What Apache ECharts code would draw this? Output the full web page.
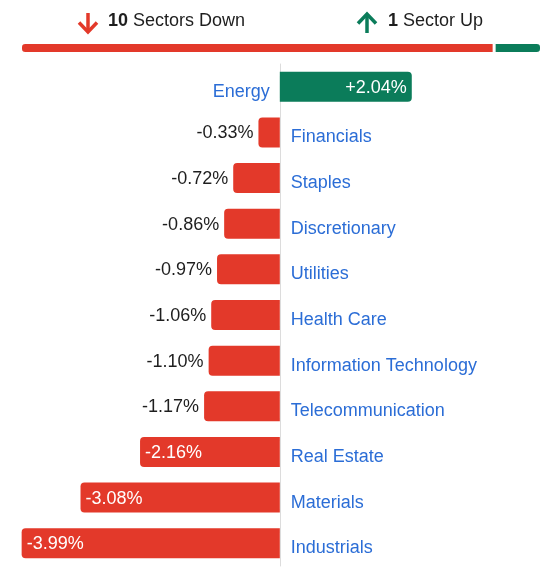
<!DOCTYPE html>
<html><head><meta charset="utf-8">
<script src="https://cdn.jsdelivr.net/npm/echarts@6/dist/echarts.min.js"></script>
<style>html,body{margin:0;padding:0;background:#fff}#c{width:560px;height:577px}</style>
</head><body><div id="c"></div>
<script>
var categories = ['Energy','Financials','Staples','Discretionary','Utilities','Health Care','Information Technology','Telecommunication','Real Estate','Materials','Industrials'];
var values = [2.04,-0.33,-0.72,-0.86,-0.97,-1.06,-1.10,-1.17,-2.16,-3.08,-3.99];
var downCount = values.filter(function(v){return v<0;}).length;
var upCount = values.filter(function(v){return v>0;}).length;

var RED = '#E3392A', GREEN = '#0B7C5A', BLUE = '#2B6DD6', DARK = '#1e1e1e';
var FONT = '"Liberation Sans", Arial, sans-serif';

var valueData = values.map(function(v){
  var pos = v >= 0, big = Math.abs(v) >= 2;
  return {
    value: v,
    itemStyle: {color: pos ? GREEN : RED, borderRadius: pos ? [0,4,4,0] : [4,0,0,4]},
    label: {
      show: true,
      position: pos ? 'insideRight' : (big ? 'insideLeft' : 'left'),
      distance: 5,
      offset: [0, 1],
      color: (pos || big) ? '#fff' : DARK,
      formatter: (pos ? '+' : '') + v.toFixed(2) + '%'
    }
  };
});
var nameData = values.map(function(v, i){
  var pos = v >= 0;
  return {
    value: v,
    label: {
      show: true,
      position: pos ? 'left' : 'right',
      distance: pos ? 10 : 11,
      color: BLUE,
      offset: [0, 5],
      formatter: categories[i]
    }
  };
});

function arrow(cx, up, color) {
  var top = 13, bot = 33;
  var tip = up ? top + 1 : bot - 1, tail = up ? bot : top;
  var hy = up ? tip + 9.5 : tip - 9.5;
  return {
    type: 'group', silent: true,
    children: [
      {type: 'line', shape: {x1: cx, y1: tail, x2: cx, y2: tip + (up ? 2 : -2)}, style: {stroke: color, lineWidth: 3.5}},
      {type: 'polyline', shape: {points: [[cx - 9, hy], [cx, tip], [cx + 9, hy]]}, style: {stroke: color, lineWidth: 3.5, fill: null, lineJoin: 'miter'}}
    ]
  };
}

var chart = echarts.init(document.getElementById('c'));
chart.setOption({
  animation: false,
  textStyle: {fontFamily: FONT},
  title: [{
    left: 108, top: 11, padding: 0,
    text: '{b|' + downCount + '} {c|Sectors Down}',
    textStyle: {rich: {
      b: {color: DARK, fontSize: 18, fontWeight: 'bold', fontFamily: FONT, lineHeight: 20},
      c: {color: DARK, fontSize: 18, fontWeight: 'normal', fontFamily: FONT, lineHeight: 20}
    }}
  }, {
    left: 388, top: 11, padding: 0,
    text: '{b|' + upCount + '} {c|Sector Up}',
    textStyle: {rich: {
      b: {color: DARK, fontSize: 18, fontWeight: 'bold', fontFamily: FONT, lineHeight: 20},
      c: {color: DARK, fontSize: 18, fontWeight: 'normal', fontFamily: FONT, lineHeight: 20}
    }}
  }],
  graphic: [arrow(88, false, RED), arrow(367, true, GREEN)],
  grid: [
    {left: 20.5, right: 18.5, top: 42.5, height: 11},
    {left: 21, width: 537, top: 64, height: 502}
  ],
  xAxis: [
    {gridIndex: 0, type: 'value', min: 0, max: downCount + upCount, show: false},
    {gridIndex: 1, type: 'value', min: -4, max: 4.3, show: false}
  ],
  yAxis: [
    {gridIndex: 0, type: 'category', data: ['count'], show: false},
    {gridIndex: 1, type: 'category', data: categories, inverse: true,
     axisLine: {show: true, onZero: true, lineStyle: {color: '#dcdcdc', width: 1}},
     axisTick: {show: false}, axisLabel: {show: false}, splitLine: {show: false}}
  ],
  series: [
    {type: 'bar', xAxisIndex: 0, yAxisIndex: 0, stack: 'h', barWidth: 11, data: [downCount],
     itemStyle: {color: RED, borderColor: '#fff', borderWidth: 1.5, borderRadius: [4,0,0,4]}},
    {type: 'bar', xAxisIndex: 0, yAxisIndex: 0, stack: 'h', barWidth: 11, data: [upCount],
     itemStyle: {color: GREEN, borderColor: '#fff', borderWidth: 1.5, borderRadius: [0,4,4,0]}},
    {type: 'bar', xAxisIndex: 1, yAxisIndex: 1, barWidth: 30, barGap: '-100%', data: valueData,
     label: {fontSize: 18, fontFamily: FONT}, z: 3},
    {type: 'bar', xAxisIndex: 1, yAxisIndex: 1, barWidth: 30, barGap: '-100%', data: nameData,
     itemStyle: {color: 'rgba(0,0,0,0)'}, label: {fontSize: 18, fontFamily: FONT}, z: 2, silent: true}
  ]
});
</script></body></html>
